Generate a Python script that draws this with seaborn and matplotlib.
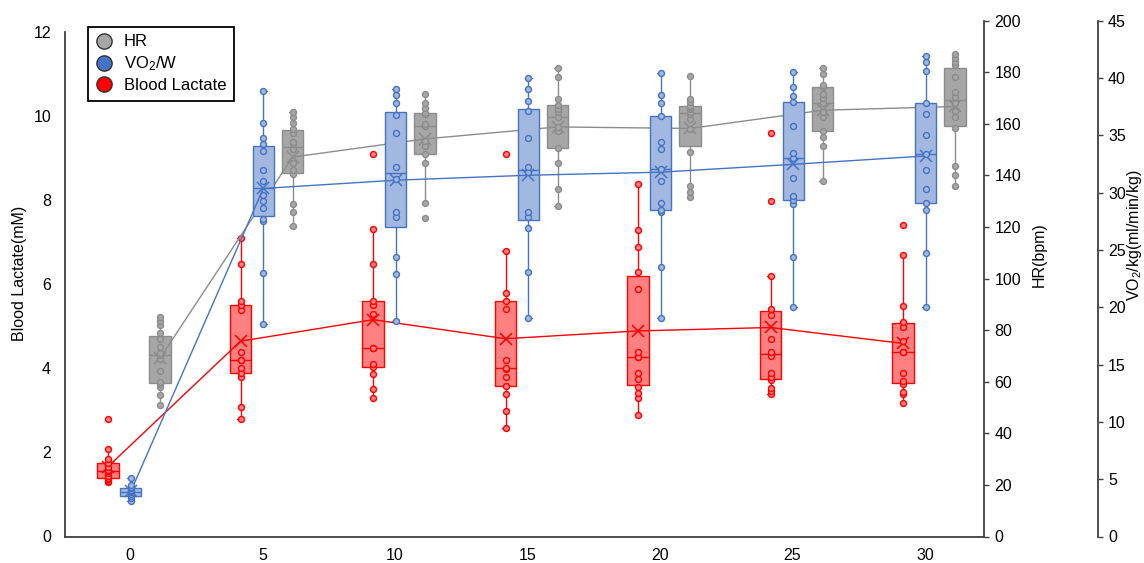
import numpy as np
import pandas as pd
import matplotlib
matplotlib.use("Agg")
import matplotlib.pyplot as plt
from matplotlib.lines import Line2D
import seaborn as sns

# ---------------- data ----------------
TIMES = ["0", "5", "10", "15", "20", "25", "30"]

# Blood lactate (mM)
lac_t0 = [1.29, 1.33, 1.37, 1.40, 1.45, 1.50, 1.55, 1.58, 1.65, 1.74, 1.85, 2.09, 2.80]
lac_t5 = [2.79, 3.08, 3.79, 3.90, 4.00, 4.19, 4.19, 4.39, 5.38, 5.50, 5.60, 6.48, 7.10]
lac_t10 = [3.29, 3.50, 3.87, 4.02, 4.10, 4.49, 4.49, 5.30, 5.50, 5.60, 6.48, 7.31, 9.09]
lac_t15 = [2.59, 2.99, 3.38, 3.58, 3.79, 3.98, 4.00, 4.19, 5.40, 5.60, 5.79, 6.78, 9.09]
lac_t20 = [2.89, 3.29, 3.41, 3.55, 3.74, 3.88, 4.28, 4.28, 4.40, 5.89, 6.29, 6.88, 7.30, 8.38]
lac_t25 = [3.38, 3.46, 3.54, 3.72, 3.80, 3.88, 4.29, 4.39, 4.69, 5.28, 5.40, 6.19, 7.99, 9.59]
lac_t30 = [3.18, 3.38, 3.44, 3.62, 3.70, 3.88, 4.39, 4.40, 4.65, 4.98, 5.10, 5.48, 6.69, 7.40]

# VO2/kg (ml/min/kg)
vo2_t0 = [3.10, 3.33, 3.50, 3.56, 3.70, 3.85, 3.91, 4.00, 4.10, 4.20, 4.30, 4.45, 5.08]
vo2_t5 = [18.5, 23.0, 27.5, 27.7, 28.7, 29.3, 29.8, 31.0, 32.0, 33.6, 34.2, 34.8, 36.1, 38.9]
vo2_t10 = [18.8, 22.9, 24.4, 27.9, 28.3, 31.2, 32.2, 35.2, 36.8, 37.8, 38.5, 39.0]
vo2_t15 = [19.1, 23.1, 26.9, 27.9, 28.3, 31.8, 32.2, 34.8, 37.1, 38.0, 39.0, 40.0]
vo2_t20 = [19.1, 23.5, 28.3, 28.5, 29.1, 31.0, 32.1, 33.8, 34.4, 36.7, 37.8, 38.5, 40.4]
vo2_t25 = [20.0, 24.4, 29.0, 29.4, 29.7, 31.3, 33.0, 33.5, 35.8, 37.9, 38.4, 39.2, 40.5]
vo2_t30 = [20.0, 24.7, 28.5, 29.1, 30.3, 32.0, 33.4, 35.0, 36.9, 37.8, 40.6, 41.4, 41.9]

# Heart rate (bpm)
hr_t0 = [51.0, 54.9, 57.9, 59.1, 60.0, 64.3, 69.0, 70.5, 71.0, 73.6, 76.6, 78.8, 82.0, 83.7, 85.0]
hr_t5 = [120.5, 125.7, 129.1, 140.7, 142.0, 144.7, 150.1, 152.0, 153.1, 156.3, 158.0, 160.4, 162.5, 164.5]
hr_t10 = [123.6, 129.2, 144.7, 148.5, 151.5, 153.4, 159.3, 160.0, 163.7, 164.3, 166.0, 168.2, 171.6]
hr_t15 = [128.2, 134.7, 144.7, 150.8, 157.3, 158.9, 162.8, 164.7, 165.8, 167.3, 169.5, 178.3, 181.5]
hr_t20 = [131.8, 133.5, 135.9, 149.2, 158.0, 162.0, 164.0, 164.7, 165.8, 166.5, 167.0, 168.6, 169.5, 178.6]
hr_t25 = [138.0, 151.4, 155.0, 157.2, 162.8, 164.7, 168.2, 170.0, 171.5, 174.2, 175.0, 179.2, 181.5]
hr_t30 = [136.0, 140.2, 143.7, 158.3, 162.5, 165.0, 168.0, 170.5, 172.5, 178.0, 183.0, 184.1, 185.5, 187.0]

LAC = [lac_t0, lac_t5, lac_t10, lac_t15, lac_t20, lac_t25, lac_t30]
VO2 = [vo2_t0, vo2_t5, vo2_t10, vo2_t15, vo2_t20, vo2_t25, vo2_t30]
HR = [hr_t0, hr_t5, hr_t10, hr_t15, hr_t20, hr_t25, hr_t30]

LEGEND_LABELS = ["HR", "VO$_2$/W", "Blood Lactate"]

# ---------------- style ----------------
RED_EDGE, RED_FILL = "#FF0000", "#FF8080"
BLUE_EDGE, BLUE_FILL = "#4472C4", "#A2B8E1"
GRAY_EDGE, GRAY_FILL = "#8C8C8C", "#A6A6A6"
SPINE = "#404040"

OFF_RED, OFF_BLUE, OFF_GRAY = -0.166, 0.006, 0.227
BOX_W = 0.16
CAP_W = 0.05

sns.set_theme(style="white")
plt.rcParams["font.family"] = ["Liberation Sans", "DejaVu Sans"]
plt.rcParams["mathtext.fontset"] = "custom"
plt.rcParams["mathtext.rm"] = "Liberation Sans"
plt.rcParams["mathtext.it"] = "Liberation Sans:italic"
plt.rcParams["mathtext.bf"] = "Liberation Sans:bold"


def long_df(groups, offset):
    rows = []
    for i, vals in enumerate(groups):
        for v in vals:
            rows.append((i + offset, v))
    return pd.DataFrame(rows, columns=["pos", "value"])


def draw(axis, df, edge, fill, whis):
    sns.boxplot(data=df, x="pos", y="value", native_scale=True, width=BOX_W,
                color=fill, linecolor=edge, linewidth=1.0, saturation=1,
                showfliers=False, whis=whis, showmeans=True,
                meanprops=dict(marker="x", markeredgecolor=edge, markerfacecolor=edge,
                               markersize=8, markeredgewidth=1.1),
                capwidths=CAP_W, ax=axis)
    sns.lineplot(data=df, x="pos", y="value", estimator="mean", errorbar=None,
                 color=edge, linewidth=1.0, ax=axis, zorder=4)
    sns.stripplot(data=df, x="pos", y="value", native_scale=True, jitter=False,
                  color=fill, edgecolor=edge, linewidth=1.0, size=4.3, ax=axis, zorder=5)


W, H = 1144.0, 563.0
x0, x1 = 65.0, 984.0
ytop, ybot = 20.7, 536.5

fig = plt.figure(figsize=(W / 100, H / 100), dpi=100)
ax = fig.add_axes([x0 / W, (H - ybot) / H, (x1 - x0) / W, (ybot - ytop) / H])
ax2 = ax.twinx()
ax3 = ax.twinx()

draw(ax, long_df(LAC, OFF_RED), RED_EDGE, RED_FILL, 1.5)
draw(ax2, long_df(HR, OFF_GRAY), GRAY_EDGE, GRAY_FILL, 1.5)
draw(ax3, long_df(VO2, OFF_BLUE), BLUE_EDGE, BLUE_FILL, (0, 100))

px_per_unit = 132.5
ax.set_xlim(-(130 - x0) / px_per_unit, (x1 - 130) / px_per_unit)
ax.set_ylim(0, 12 * (ybot - ytop) / (536.0 - 31.5))
ax2.set_ylim(0, 200)
ax3.set_ylim(0, 45)

ax.set_xticks(range(len(TIMES)))
ax.set_xticklabels(TIMES)
ax.set_yticks(range(0, 13, 2))
ax2.set_yticks(range(0, 201, 20))
ax3.set_yticks(range(0, 46, 5))

FS = 11.5
ax.tick_params(axis="x", length=0, labelsize=FS, pad=8, labelcolor="black")
ax.tick_params(axis="y", length=0, labelsize=FS, pad=10, labelcolor="black")
for a in (ax2, ax3):
    a.tick_params(axis="y", length=3.5, width=1.0, direction="out", color=SPINE,
                  labelsize=FS, pad=4, labelcolor="black", right=True)

for a in (ax, ax2, ax3):
    for s in a.spines.values():
        s.set_visible(False)
        s.set_color(SPINE)
        s.set_linewidth(1.3)
ax.spines["left"].set_visible(True)
ax.spines["left"].set_bounds(0, 12)
ax.spines["bottom"].set_visible(True)
ax2.spines["right"].set_visible(True)
ax3.spines["right"].set_visible(True)
ax3.spines["right"].set_position(("axes", (1097.6 - x0) / (x1 - x0)))

ax.set_xlabel("")
ax2.set_xlabel("")
ax3.set_xlabel("")
ax.set_ylabel("Blood Lactate(mM)", fontsize=FS, color="black")
ax2.set_ylabel("HR(bpm)", fontsize=FS, color="black")
ax3.set_ylabel("VO$_2$/kg(ml/min/kg)", fontsize=FS, color="black")
ax.yaxis.set_label_coords((27 - x0) / (x1 - x0), (ybot - 273) / (ybot - ytop))
ax2.yaxis.set_label_coords((1032 - x0) / (x1 - x0), (ybot - 255) / (ybot - ytop))
ax3.yaxis.set_label_coords((1125 - x0) / (x1 - x0), (ybot - 235) / (ybot - ytop))

handles = [
    Line2D([], [], linestyle="", marker="o", markersize=11, markerfacecolor="#A6A6A6",
           markeredgecolor="#333333", markeredgewidth=1.0),
    Line2D([], [], linestyle="", marker="o", markersize=11, markerfacecolor="#4472C4",
           markeredgecolor="#333333", markeredgewidth=1.0),
    Line2D([], [], linestyle="", marker="o", markersize=11, markerfacecolor="#FF0000",
           markeredgecolor="#333333", markeredgewidth=1.0),
]
leg = ax3.legend(handles, LEGEND_LABELS, loc="upper left",
                 bbox_to_anchor=((88 - x0) / (x1 - x0), (ybot - 27) / (ybot - ytop)),
                 bbox_transform=ax.transAxes, borderaxespad=0, frameon=True,
                 fancybox=False, edgecolor="black", framealpha=1, fontsize=12,
                 handlelength=1.0, handletextpad=0.7, labelspacing=0.3, borderpad=0.45)
leg.get_frame().set_linewidth(1.3)
for t in leg.get_texts():
    t.set_color("black")

fig.savefig("out.png", dpi=100)
